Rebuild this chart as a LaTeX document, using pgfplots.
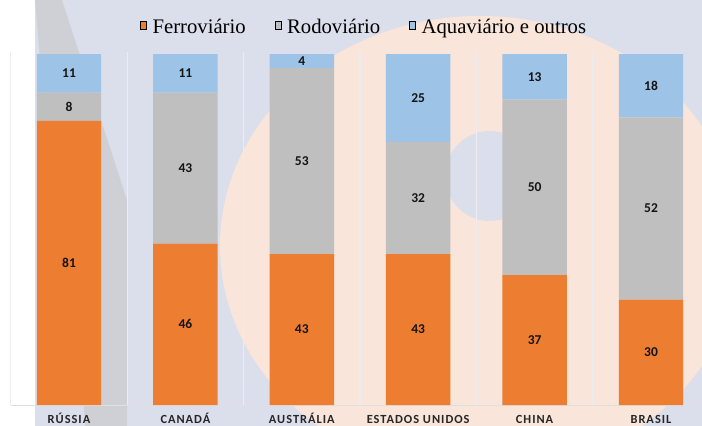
\documentclass[border=0pt]{standalone}
\usepackage{pgfplots}
\pgfplotsset{compat=1.18}
\usepackage{fontspec}
\setmainfont{Liberation Serif}
\newfontfamily\legfont{Liberation Serif}
\newfontfamily\carlito{Carlito}
\newfontfamily\carlitosp{Carlito}[LetterSpace=8]
\definecolor{cFerro}{HTML}{ED7D31}
\definecolor{cRodo}{HTML}{BFBFBF}
\definecolor{cAqua}{HTML}{9DC3E6}
\definecolor{cBg}{HTML}{DADFEB}
\definecolor{cSep}{HTML}{ECECF1}
\definecolor{cPeach}{HTML}{F9E5DA}
\definecolor{cBand}{HTML}{CFD0D6}
\begin{document}
\begin{tikzpicture}[x=1pt,y=1pt]
\useasboundingbox (0,0) rectangle (702,426);
\clip (0,0) rectangle (702,426);
\fill[cBg] (0,0) rectangle (702,426);
\fill[cPeach] (480,180) ellipse [x radius=260, y radius=230];
\fill[cBg] (490,250) ellipse [x radius=45, y radius=45];
\fill[white] (0,0) rectangle (35,426);
\fill[cBand] (35,426) -- (62,426) -- (127,226) -- (127,0) -- (85,0) -- (75,176) -- (40,366) -- cycle;
\begin{axis}[
  at={(10.8pt,21pt)}, anchor=south west,
  scale only axis, width=698.4pt, height=353pt,
  ybar stacked, bar width=0.554,
  xmin=-0.5, xmax=5.5, ymin=0, ymax=100.6,
  xtick={0,1,2,3,4,5},
  xticklabels={RÚSSIA,CANADÁ,AUSTRÁLIA,ESTADOS UNIDOS,CHINA,BRASIL},
  xticklabel style={font=\carlitosp\bfseries\fontsize{12.4}{14}\selectfont, text=black!85, anchor=base, yshift=-18.8pt},
  ytick=\empty,
  major tick length=0pt, minor tick length=0pt,
  minor xtick={-0.5,0.5,1.5,2.5,3.5,4.5,5.5},
  xminorgrids=true,
  minor grid style={draw=cSep, line width=1.3pt},
  axis line style={draw=none},
  /pgfplots/ybar legend/.style={/pgfplots/legend image code/.code={\fill[##1] (0pt,-5pt) rectangle (10pt,5pt);}},
  legend style={draw=none, fill=none, legend columns=3, inner sep=0pt,
    font=\legfont\fontsize{20.7}{23}\selectfont,
    nodes={inner sep=0pt},
    /tikz/every odd column/.append style={column sep=6pt},
    /tikz/every even column/.append style={column sep=29pt},
    at={(0.185,1.070)}, anchor=west},
  legend cell align=left,
]
\addplot[fill=cFerro, draw=none] coordinates {(0,81) (1,46) (2,43) (3,43) (4,37) (5,30)};
\addplot[fill=cRodo, draw=none] coordinates {(0,8) (1,43) (2,53) (3,32) (4,50) (5,52)};
\addplot[fill=cAqua, draw=none] coordinates {(0,11) (1,11) (2,4) (3,25) (4,13) (5,18)};
\legend{Ferroviário,Rodoviário,Aquaviário e outros}
\draw[color=black!12, line width=1pt] (rel axis cs:0,0) -- (rel axis cs:1,0);
\end{axis}
\begin{axis}[
  at={(10.8pt,21pt)}, anchor=south west,
  scale only axis, width=698.4pt, height=353pt,
  xmin=-0.5, xmax=5.5, ymin=0, ymax=100.6,
  hide axis,
]
\addplot[draw=none, mark=none, nodes near coords, nodes near coords align=center,
  point meta=explicit symbolic,
  nodes near coords style={font=\carlito\bfseries\fontsize{13.5}{15}\selectfont, text=black!92}]
  table[meta=lab] {
x y lab
0 40.5 81
0 85 8
0 94.5 11
1 23 46
1 67.5 43
1 94.5 11
2 21.5 43
2 69.5 53
2 98 4
3 21.5 43
3 59 32
3 87.5 25
4 18.5 37
4 62 50
4 93.5 13
5 15 30
5 56 52
5 91 18
};
\end{axis}
\end{tikzpicture}
\end{document}
